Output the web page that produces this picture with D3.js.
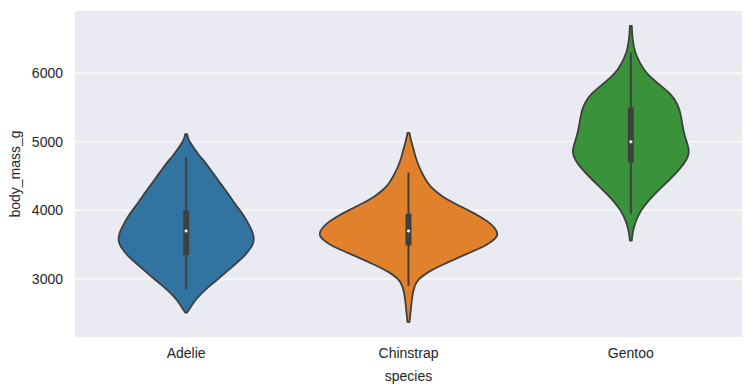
<!DOCTYPE html>
<html>
<head>
<meta charset="utf-8"/>
<script src="https://d3js.org/d3.v7.min.js"></script>
<style>
body { margin: 0; background: #fff; }
text { font-family: "Liberation Sans", Arial, sans-serif; fill: #262626; }
</style>
</head>
<body>
<svg id="svg" width="756" height="388"></svg>
<script>
// categories
var species = ["Adelie", "Chinstrap", "Gentoo"];
var colors = ["#3274a1", "#e1812c", "#3a923a"];
var yTicks = [3000, 4000, 5000, 6000];

// violin outlines: body mass and relative density (1 = widest)
var adelieMass    = [5111, 5050, 5000, 4900, 4800, 4700, 4600, 4500, 4400, 4300, 4200, 4100, 4000, 3900, 3800, 3700, 3600, 3500, 3400, 3300, 3200, 3100, 3000, 2900, 2800, 2700, 2600, 2511];
var adelieDens    = [0.011, 0.022, 0.039, 0.09, 0.146, 0.214, 0.27, 0.326, 0.382, 0.439, 0.495, 0.546, 0.607, 0.658, 0.703, 0.742, 0.765, 0.754, 0.697, 0.63, 0.534, 0.45, 0.36, 0.264, 0.18, 0.107, 0.056, 0.011];
var chinstrapMass = [5130, 5050, 4950, 4800, 4650, 4500, 4400, 4300, 4200, 4100, 4000, 3900, 3800, 3700, 3650, 3600, 3500, 3400, 3300, 3200, 3100, 3000, 2900, 2780, 2580, 2370];
var chinstrapDens = [0.011, 0.022, 0.045, 0.073, 0.112, 0.169, 0.214, 0.281, 0.382, 0.517, 0.675, 0.821, 0.934, 0.995, 1.0, 0.99, 0.889, 0.72, 0.54, 0.371, 0.214, 0.112, 0.067, 0.045, 0.028, 0.011];
var gentooMass    = [6690, 6500, 6300, 6150, 6000, 5850, 5700, 5550, 5400, 5250, 5100, 4950, 4850, 4750, 4600, 4450, 4300, 4150, 4000, 3850, 3700, 3560];
var gentooDens    = [0.011, 0.017, 0.045, 0.101, 0.169, 0.304, 0.45, 0.529, 0.562, 0.579, 0.602, 0.641, 0.658, 0.636, 0.551, 0.439, 0.315, 0.202, 0.112, 0.056, 0.022, 0.011];

// inner box stats
var whiskLow  = [2850, 2900, 3950];
var q1        = [3350, 3487.5, 4700];
var medians   = [3700, 3700, 5000];
var q3        = [4000, 3950, 5500];
var whiskHigh = [4775, 4550, 6300];

var masses = [adelieMass, chinstrapMass, gentooMass];
var dens = [adelieDens, chinstrapDens, gentooDens];

var margin = { left: 75, right: 14, top: 11, bottom: 51 },
    width = 756 - margin.left - margin.right,
    height = 388 - margin.top - margin.bottom;

var svg = d3.select("#svg");
var g = svg.append("g").attr("transform", "translate(" + margin.left + "," + margin.top + ")");

var x = d3.scaleBand().domain(species).range([0, width]);
var y = d3.scaleLinear().domain([2154, 6906]).range([height, 0]);
var w = d3.scaleLinear().domain([0, 1]).range([0, x.bandwidth() * 0.4]);
var gray = "#3f3f3f";

g.append("rect").attr("width", width).attr("height", height).attr("fill", "#eaeaf2");

g.selectAll(".grid").data(yTicks).enter().append("line")
    .attr("x1", 0).attr("x2", width)
    .attr("y1", d => y(d)).attr("y2", d => y(d))
    .attr("stroke", "#fff").attr("stroke-width", 1.2);

var yAxisG = g.append("g").call(d3.axisLeft(y).tickValues(yTicks).tickFormat(d3.format("d")).tickSize(0).tickPadding(12));
yAxisG.select(".domain").remove();
yAxisG.selectAll("text").style("font-size", "14px").attr("fill", "#262626");

var xAxisG = g.append("g").attr("transform", "translate(0," + height + ")")
    .call(d3.axisBottom(x).tickSize(0).tickPadding(11));
xAxisG.select(".domain").remove();
xAxisG.selectAll("text").style("font-size", "14px").attr("fill", "#262626");

var area = d3.area()
    .y(d => y(d[0]))
    .curve(d3.curveBasis);

species.forEach(function(s, i) {
  var cx = x(s) + x.bandwidth() / 2;
  var pts = masses[i].map((m, k) => [m, dens[i][k]]);
  area.x0(d => cx - w(d[1])).x1(d => cx + w(d[1]));
  g.append("path").datum(pts)
    .attr("d", area)
    .attr("fill", colors[i])
    .attr("stroke", gray).attr("stroke-width", 1.8).attr("stroke-linejoin", "round");

  g.append("line").attr("x1", cx).attr("x2", cx)
    .attr("y1", y(whiskLow[i])).attr("y2", y(whiskHigh[i]))
    .attr("stroke", gray).attr("stroke-width", 2);
  g.append("line").attr("x1", cx).attr("x2", cx)
    .attr("y1", y(q1[i])).attr("y2", y(q3[i]))
    .attr("stroke", gray).attr("stroke-width", 6);
  g.append("circle").attr("cx", cx).attr("cy", y(medians[i])).attr("r", 1.8)
    .attr("fill", "#fff").attr("stroke", gray).attr("stroke-width", 0.5);
});

g.append("text").attr("x", width / 2).attr("y", height + 44)
  .attr("text-anchor", "middle").style("font-size", "14px").text("species");

g.append("text").attr("transform", "translate(" + (20 - margin.left) + "," + (height / 2) + ") rotate(-90)")
  .attr("text-anchor", "middle").style("font-size", "14px").text("body_mass_g");
</script>
</body>
</html>
